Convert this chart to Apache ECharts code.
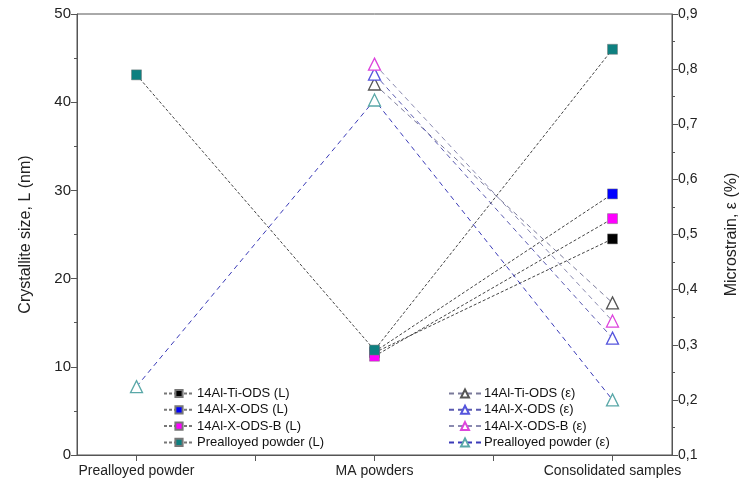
<!DOCTYPE html>
<html><head><meta charset="utf-8">
<script src="https://cdn.jsdelivr.net/npm/echarts@6/dist/echarts.min.js"></script>
<style>html,body{margin:0;padding:0;background:#fff}#c{width:748px;height:492px}</style>
</head><body><div id="c"></div>
<script>
// Categories (blank slots give the intermediate ticks)
const categories = ["Prealloyed powder", "", "MA powders", "", "Consolidated samples"];
const yLeftTicks = [0, 10, 20, 30, 40, 50];
const yRightTicks = [0.1, 0.2, 0.3, 0.4, 0.5, 0.6, 0.7, 0.8, 0.9];

// Crystallite size L (nm)
const tiL = [null, null, 11.6, null, 24.5];
const xL = [null, null, 11.7, null, 29.6];
const xbL = [null, null, 11.2, null, 26.8];
const preL = [43.1, null, 11.9, null, 46.0];

// Microstrain ε (%)
const tiE = [null, null, 0.773, null, 0.376];
const xE = [null, null, 0.791, null, 0.312];
const xbE = [null, null, 0.809, null, 0.343];
const preE = [0.224, null, 0.744, null, 0.200];

const FONT = "Liberation Sans";

function lSeries(name, data, color) {
  return {
    name, type: 'line', data, yAxisIndex: 0, connectNulls: true,
    symbol: 'rect', symbolSize: 10,
    itemStyle: { color: color, borderColor: '#777', borderWidth: 0.5 },
    lineStyle: { color: '#444', width: 1, type: [3, 2] },
    emphasis: { disabled: true }, animation: false
  };
}
function eSeries(name, data, color, lineColor) {
  return {
    name, type: 'line', data, yAxisIndex: 1, connectNulls: true,
    symbol: 'triangle', symbolSize: 12,
    itemStyle: { color: '#fff', borderColor: color, borderWidth: 1.3 },
    lineStyle: { color: lineColor, width: 1, type: [5, 4] },
    emphasis: { disabled: true }, animation: false
  };
}

const chart = echarts.init(document.getElementById('c'), null, { renderer: 'canvas' });
chart.setOption({
  backgroundColor: '#fff',
  animation: false,
  textStyle: { fontFamily: FONT },
  grid: { left: 77, right: 76, top: 14, bottom: 37, show: true, borderColor: '#555', borderWidth: 1 },
  legend: [
    {
      data: ['14Al-Ti-ODS (L)', '14Al-X-ODS (L)', '14Al-X-ODS-B (L)', 'Prealloyed powder (L)'],
      orient: 'vertical', left: 158, top: 382, itemGap: 3.3, itemWidth: 30, itemHeight: 9,
      lineStyle: { color: '#777' },
      textStyle: { fontFamily: FONT, fontSize: 13, color: '#111', padding: [0, 0, 0, -2] },
      selectedMode: false
    },
    {
      data: ['14Al-Ti-ODS (ε)', '14Al-X-ODS (ε)', '14Al-X-ODS-B (ε)', 'Prealloyed powder (ε)'],
      orient: 'vertical', left: 443, top: 382, itemGap: 3.3, itemWidth: 32, itemHeight: 10,
      textStyle: { fontFamily: FONT, fontSize: 13, color: '#111', padding: [0, 0, 0, -2] },
      selectedMode: false
    }
  ],
  xAxis: {
    type: 'category', data: categories, boundaryGap: true,
    axisLine: { lineStyle: { color: '#555', width: 1 } },
    axisTick: { show: true, alignWithLabel: true, interval: 0, length: 6, lineStyle: { color: '#555' } },
    axisLabel: { interval: 0, color: '#222', fontSize: 14, fontFamily: FONT, margin: 9 },
    splitLine: { show: false }
  },
  yAxis: [
    {
      type: 'value', min: 0, max: 50, interval: 10, position: 'left',
      name: 'Crystallite size, L (nm)', nameLocation: 'middle', nameGap: 43, nameRotate: 90,
      nameTextStyle: { fontSize: 16, color: '#222', fontFamily: FONT },
      axisLine: { show: true, lineStyle: { color: '#555' } },
      axisTick: { show: true, length: 6, lineStyle: { color: '#555' } },
      minorTick: { show: true, splitNumber: 2, length: 3, lineStyle: { color: '#555' } },
      axisLabel: { color: '#222', fontSize: 15, fontFamily: FONT, margin: 6 },
      splitLine: { show: false }
    },
    {
      type: 'value', min: 0.1, max: 0.9, interval: 0.1, position: 'right',
      name: 'Microstrain, ε (%)', nameLocation: 'middle', nameGap: 52, nameRotate: 90,
      nameTextStyle: { fontSize: 16, color: '#222', fontFamily: FONT },
      axisLine: { show: true, lineStyle: { color: '#555' } },
      axisTick: { show: true, length: 6, lineStyle: { color: '#555' } },
      minorTick: { show: true, splitNumber: 2, length: 3, lineStyle: { color: '#555' } },
      axisLabel: { color: '#222', fontSize: 14, fontFamily: FONT, margin: 6,
        formatter: v => v.toFixed(1).replace('.', ',') },
      splitLine: { show: false }
    }
  ],
  series: [
    lSeries('14Al-Ti-ODS (L)', tiL, '#000000'),
    lSeries('14Al-X-ODS (L)', xL, '#0000ff'),
    lSeries('14Al-X-ODS-B (L)', xbL, '#ff00ff'),
    lSeries('Prealloyed powder (L)', preL, '#0e8080'),
    eSeries('14Al-Ti-ODS (ε)', tiE, '#555555', '#7a7a9a'),
    eSeries('14Al-X-ODS (ε)', xE, '#5555dd', '#5a5ab0'),
    eSeries('14Al-X-ODS-B (ε)', xbE, '#dd44dd', '#8a8ab0'),
    eSeries('Prealloyed powder (ε)', preE, '#5aa8a8', '#3a3ab8')
  ]
});
</script></body></html>
